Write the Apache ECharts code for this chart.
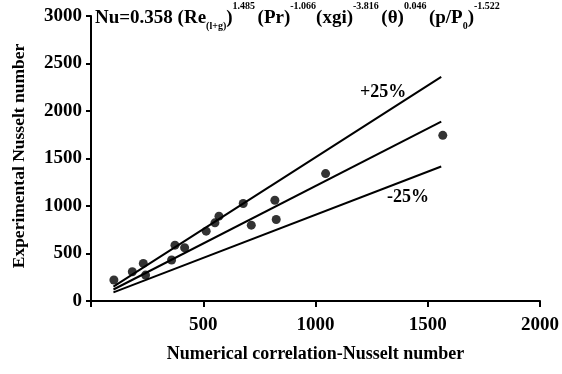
<!DOCTYPE html>
<html><head><meta charset="utf-8">
<script src="https://cdn.jsdelivr.net/npm/echarts@6/dist/echarts.min.js"></script>
<style>html,body{margin:0;padding:0;background:#fff}#c{width:562px;height:374px}</style>
</head><body><div id="c"></div>
<script>
var xTicks = [0, 500, 1000, 1500, 2000];
var yTicks = [0, 500, 1000, 1500, 2000, 2500, 3000];
var pointsX = [102, 184, 233, 243, 374, 359, 417, 513, 552, 570, 678, 714, 819, 825, 1045, 1567];
var pointsY = [221, 308, 396, 273, 588, 431, 560, 735, 823, 893, 1026, 798, 1061, 858, 1341, 1744];
var lineX = [100, 1560];
var centerY = [121, 1888];
var upperY = [151, 2360];
var lowerY = [91, 1416];

var font = '"Liberation Serif", "DejaVu Serif", serif';
function zip(a, b) { return a.map(function (v, i) { return [v, b[i]]; }); }

var chart = echarts.init(document.getElementById('c'));
var lineStyle = { color: '#000', width: 2 };
chart.setOption({
  animation: false,
  grid: { left: 91, right: 21, top: 16, bottom: 73 },
  xAxis: {
    type: 'value', min: xTicks[0], max: xTicks[xTicks.length - 1], interval: 500,
    splitLine: { show: false },
    axisLine: { lineStyle: { color: '#000', width: 2 } },
    axisTick: { lineStyle: { color: '#000', width: 2 }, length: 6 },
    axisLabel: { color: '#000', fontFamily: font, fontWeight: 'bold', fontSize: 19, margin: 15,
      formatter: function (v) { return v === 0 ? '' : String(v); } },
    name: 'Numerical correlation-Nusselt number', nameLocation: 'middle', nameGap: 44,
    nameTextStyle: { color: '#000', fontFamily: font, fontWeight: 'bold', fontSize: 18, verticalAlign: 'top' }
  },
  yAxis: {
    type: 'value', min: yTicks[0], max: yTicks[yTicks.length - 1], interval: 500,
    splitLine: { show: false },
    axisLine: { show: true, lineStyle: { color: '#000', width: 2 } },
    axisTick: { show: true, lineStyle: { color: '#000', width: 2 }, length: 5 },
    axisLabel: { color: '#000', fontFamily: font, fontWeight: 'bold', fontSize: 19, margin: 9,
      formatter: function (v) { return String(v); } }
  },
  series: [
    { type: 'line', data: zip(lineX, upperY), symbol: 'none', lineStyle: lineStyle },
    { type: 'line', data: zip(lineX, centerY), symbol: 'none', lineStyle: lineStyle },
    { type: 'line', data: zip(lineX, lowerY), symbol: 'none', lineStyle: lineStyle },
    { type: 'scatter', data: zip(pointsX, pointsY), symbol: 'circle', symbolSize: 9,
      itemStyle: { color: '#000' } }
  ],
  graphic: [
    { type: 'text', left: 95, top: 1, style: {
      text: '{n|Nu=0.358 (Re}{sub|(l+g)}{n|)}{sup|1.485 }{n|(Pr)}{sup|-1.066}{n|(xgi)}{sup|-3.816 }{n|(θ)}{sup|0.046 }{n|(p/P}{sub|0}{n|)}{sup|-1.522}',
      rich: {
        n: { fontFamily: font, fontWeight: 'bold', fontSize: 19, verticalAlign: 'top', padding: [11, 0, 0, 0], fill: '#000' },
        sup: { fontFamily: font, fontWeight: 'bold', fontSize: 10, verticalAlign: 'top', padding: [3, 0, 0, 0], fill: '#000' },
        sub: { fontFamily: font, fontWeight: 'bold', fontSize: 10, verticalAlign: 'top', padding: [23, 0, 0, 0], fill: '#000' }
      } } },
    { type: 'text', x: 19, y: 156, rotation: Math.PI / 2, style: {
      text: 'Experimental Nusselt number', fontFamily: font, fontWeight: 'bold', fontSize: 17.5,
      fill: '#000', align: 'center', verticalAlign: 'middle' } },
    { type: 'text', left: 360, top: 83, style: { text: '+25%', fontFamily: font, fontWeight: 'bold', fontSize: 18, fill: '#000' } },
    { type: 'text', left: 387, top: 188, style: { text: '-25%', fontFamily: font, fontWeight: 'bold', fontSize: 18, fill: '#000' } }
  ]
});
</script></body></html>
